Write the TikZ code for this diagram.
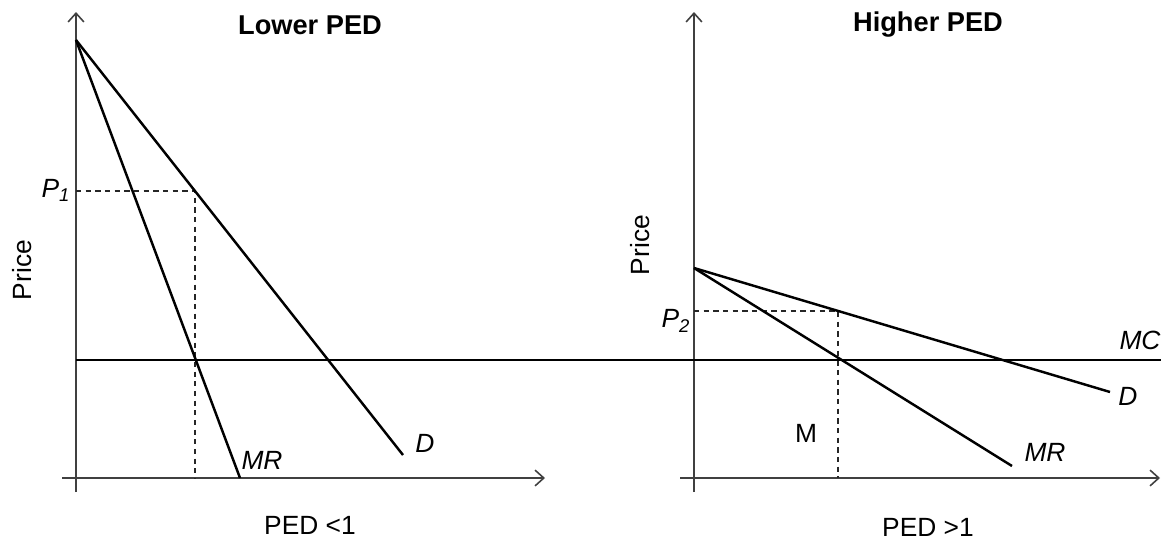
\documentclass[tikz,border=0pt]{standalone}
\usepackage{fontspec}
\setmainfont{Liberation Sans}
\usetikzlibrary{arrows.meta}
\begin{document}
\begin{tikzpicture}[x=0.02cm,y=-0.02cm,
  axis/.style={draw=black!75,line width=0.9pt,-{Straight Barb[length=5pt,width=9pt,line width=0.9pt]}},
  curve/.style={draw=black,line width=1.4pt},
  guide/.style={draw=black!85,line width=0.6pt,dash pattern=on 3pt off 2.5pt},
  lbl/.style={font=\fontsize{15}{17}\selectfont,inner sep=0pt},
  ilbl/.style={font=\fontsize{15}{17}\selectfont\itshape,inner sep=0pt},
  ttl/.style={font=\fontsize{15.5}{17}\selectfont\bfseries,inner sep=0pt}]
\useasboundingbox (0,0) rectangle (1161,548);
% left panel
\coordinate (LYb) at (76,492);
\coordinate (LYt) at (76,12);
\coordinate (LXa) at (62,478);
\coordinate (LXb) at (545,478);
\coordinate (LA) at (76,40);
\coordinate (LD) at (403,455);
\coordinate (LMR) at (240,478);
\coordinate (LP) at (195,191);
\coordinate (LPy) at (76,191);
\coordinate (LPx) at (195,478);
\draw[axis] (LYb) -- (LYt);
\draw[axis] (LXa) -- (LXb);
\draw[guide] (LPy) -- (LP) -- (LPx);
\draw[curve] (LA) -- (LD);
\draw[curve] (LA) -- (LMR);
% right panel
\coordinate (RYb) at (694,492);
\coordinate (RYt) at (694,12);
\coordinate (RXa) at (680,478);
\coordinate (RXb) at (1160,478);
\coordinate (RA) at (694,268);
\coordinate (RD) at (1110,392);
\coordinate (RMR) at (1012,466);
\coordinate (RP) at (838,311);
\coordinate (RPy) at (694,311);
\coordinate (RPx) at (838,478);
\draw[axis] (RYb) -- (RYt);
\draw[axis] (RXa) -- (RXb);
\draw[guide] (RPy) -- (RP) -- (RPx);
\draw[curve] (RA) -- (RD);
\draw[curve] (RA) -- (RMR);
% MC
\coordinate (MCa) at (76,360);
\coordinate (MCb) at (1161,360);
\draw[curve] (MCa) -- (MCb);
% labels
\node[ttl] (t1) at (310,25) {Lower PED};
\node[ttl] (t2) at (928,25) {Higher PED};
\node[lbl,rotate=90] (pr1) at (22,270) {Price};
\node[lbl,rotate=90] (pr2) at (640,245) {Price};
\node[lbl] (x1) at (310,525) {PED <1};
\node[lbl] (x2) at (928,527) {PED >1};
\node[ilbl] (p1) at (56,190) {P\textsubscript{1}};
\node[ilbl] (p2) at (676,321) {P\textsubscript{2}};
\node[ilbl] (mc) at (1140,340) {MC};
\node[ilbl] (d2) at (1128,396) {D};
\node[ilbl] (mr2) at (1045,452) {MR};
\node[lbl] (m) at (806,433) {M};
\node[ilbl] (mr1) at (262,460) {MR};
\node[ilbl] (d1) at (425,443) {D};
\end{tikzpicture}
\end{document}
